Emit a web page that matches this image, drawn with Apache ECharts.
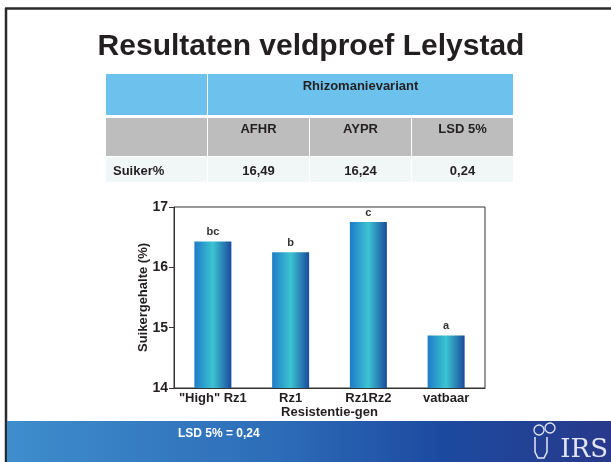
<!DOCTYPE html>
<html>
<head>
<meta charset="utf-8">
<script src="https://cdn.jsdelivr.net/npm/echarts@6/dist/echarts.min.js"></script>
<style>
  html, body { margin: 0; padding: 0; background: #fff; }
  #chart { width: 611px; height: 462px; }
</style>
</head>
<body>
<div id="chart"></div>
<script>
// chart data
const categories = ['"High" Rz1', 'Rz1', 'Rz1Rz2', 'vatbaar'];
const sugarValues = [16.43, 16.25, 16.75, 14.87];
const letterLabels = ['bc', 'b', 'c', 'a'];
const yMin = 14, yMax = 17, yStep = 1;

// table above the chart
const tableGroup = 'Rhizomanievariant';
const tableColumns = ['AFHR', 'AYPR', 'LSD 5%'];
const tableRowLabel = 'Suiker%';
const tableValues = ['16,49', '16,24', '0,24'];

const titleText = 'Resultaten veldproef Lelystad';
const footerNote = 'LSD 5% = 0,24';

const FONT = '"Liberation Sans", Arial, Helvetica, sans-serif';
const INK = '#231f20';

const myChart = echarts.init(document.getElementById('chart'), null, { renderer: 'canvas' });

// table layout
const colX = [106, 208, 310, 412];
const colW = [101, 101, 101, 101];
const rowY = [74, 118, 157];
const rowH = [41, 38, 25];

let graphics = [];

// slide frame
graphics.push({ type: 'line', shape: { x1: 5, y1: 8.5, x2: 611, y2: 8.5 }, style: { stroke: '#2b2b2b', lineWidth: 2.5 } });
graphics.push({ type: 'line', shape: { x1: 6, y1: 8, x2: 6, y2: 462 }, style: { stroke: '#2b2b2b', lineWidth: 2.5 } });

// title
graphics.push({
    type: 'text', x: 311, y: 47,
    style: { text: titleText, font: 'bold 30px ' + FONT, fill: INK, textAlign: 'center', textVerticalAlign: 'middle' }
});

// table: header (blue)
graphics.push({ type: 'rect', shape: { x: colX[0], y: rowY[0], width: colW[0], height: rowH[0] }, style: { fill: '#6cc1ed' } });
graphics.push({ type: 'rect', shape: { x: colX[1], y: rowY[0], width: colX[3] + colW[3] - colX[1], height: rowH[0] }, style: { fill: '#6cc1ed' } });
graphics.push({
    type: 'text', x: (colX[1] + colX[3] + colW[3]) / 2, y: 86,
    style: { text: tableGroup, font: 'bold 13px ' + FONT, fill: INK, textAlign: 'center', textVerticalAlign: 'middle' }
});

// table: column row (gray) and value row (light)
for (let i = 0; i < 4; i++) {
    graphics.push({ type: 'rect', shape: { x: colX[i], y: rowY[1], width: colW[i], height: rowH[1] }, style: { fill: '#bdbdbd' } });
    graphics.push({ type: 'rect', shape: { x: colX[i], y: rowY[2], width: colW[i], height: rowH[2] }, style: { fill: '#f1f6f6' } });
}
tableColumns.forEach(function (name, i) {
    graphics.push({
        type: 'text', x: colX[i + 1] + colW[i + 1] / 2, y: 129,
        style: { text: name, font: 'bold 13px ' + FONT, fill: INK, textAlign: 'center', textVerticalAlign: 'middle' }
    });
});
graphics.push({
    type: 'text', x: 113, y: 171,
    style: { text: tableRowLabel, font: 'bold 13px ' + FONT, fill: INK, textAlign: 'left', textVerticalAlign: 'middle' }
});
tableValues.forEach(function (v, i) {
    graphics.push({
        type: 'text', x: colX[i + 1] + colW[i + 1] / 2, y: 171,
        style: { text: v, font: 'bold 13px ' + FONT, fill: INK, textAlign: 'center', textVerticalAlign: 'middle' }
    });
});

// footer band
graphics.push({
    type: 'rect', shape: { x: 7, y: 421, width: 604, height: 41 },
    style: {
        fill: new echarts.graphic.LinearGradient(0, 0, 1, 0, [
            { offset: 0, color: '#3e8dcc' },
            { offset: 0.45, color: '#2d6cb8' },
            { offset: 0.72, color: '#1c4aa0' },
            { offset: 1, color: '#28398a' }
        ])
    }
});
graphics.push({
    type: 'text', x: 178, y: 434,
    style: { text: footerNote, font: 'bold 12px ' + FONT, fill: '#ffffff', textAlign: 'left', textVerticalAlign: 'middle' }
});

// IRS logo (rough)
const logoInk = '#e3e5f4';
graphics.push({
    type: 'text', x: 608, y: 450,
    style: { text: 'IRS', font: '26px "DejaVu Serif", "Liberation Serif", serif', fill: logoInk, textAlign: 'right', textVerticalAlign: 'middle' }
});
graphics.push({
    type: 'polyline',
    shape: { points: [[535, 437], [535, 452], [538, 458], [544, 458], [547, 452], [547, 437]] },
    style: { fill: 'none', stroke: logoInk, lineWidth: 1.5 }
});
graphics.push({ type: 'circle', shape: { cx: 539, cy: 430, r: 5 }, style: { fill: 'none', stroke: logoInk, lineWidth: 1.3 } });
graphics.push({ type: 'circle', shape: { cx: 550, cy: 428, r: 5 }, style: { fill: 'none', stroke: logoInk, lineWidth: 1.3 } });

const barGradient = new echarts.graphic.LinearGradient(0, 0, 1, 0, [
    { offset: 0, color: '#1f7cc8' },
    { offset: 0.5, color: '#3cc4d2' },
    { offset: 1, color: '#1a4b9c' }
]);

const option = {
    backgroundColor: '#fff',
    animation: false,
    grid: {
        left: 174, top: 207, width: 311, height: 181,
        show: true, borderColor: '#333', borderWidth: 1, backgroundColor: 'transparent'
    },
    xAxis: {
        type: 'category',
        data: categories,
        name: 'Resistentie-gen',
        nameLocation: 'middle',
        nameGap: 18,
        nameMoveOverlap: false,
        nameTextStyle: { fontFamily: FONT, fontWeight: 'bold', fontSize: 13, color: INK },
        axisLine: { lineStyle: { color: '#333', width: 1 } },
        axisTick: { show: false },
        axisLabel: { interval: 0, fontFamily: FONT, fontWeight: 'bold', fontSize: 13, color: INK, margin: 4 }
    },
    yAxis: {
        type: 'value',
        min: yMin, max: yMax, interval: yStep,
        name: 'Suikergehalte (%)',
        nameLocation: 'middle',
        nameGap: 24,
        nameMoveOverlap: false,
        nameTextStyle: { fontFamily: FONT, fontWeight: 'bold', fontSize: 13, color: INK },
        axisLine: { show: true, lineStyle: { color: '#333', width: 1 } },
        axisTick: { show: true, inside: false, length: 5, lineStyle: { color: '#333' } },
        splitLine: { show: false },
        axisLabel: { fontFamily: FONT, fontWeight: 'bold', fontSize: 14, color: INK, margin: 6 }
    },
    series: [{
        type: 'bar',
        data: sugarValues,
        barWidth: 37,
        itemStyle: { color: barGradient },
        label: {
            show: true, position: 'top', distance: 4,
            formatter: function (p) { return letterLabels[p.dataIndex]; },
            fontFamily: FONT, fontWeight: 'bold', fontSize: 11, color: '#333'
        }
    }],
    graphic: graphics
};

myChart.setOption(option);
</script>
</body>
</html>
